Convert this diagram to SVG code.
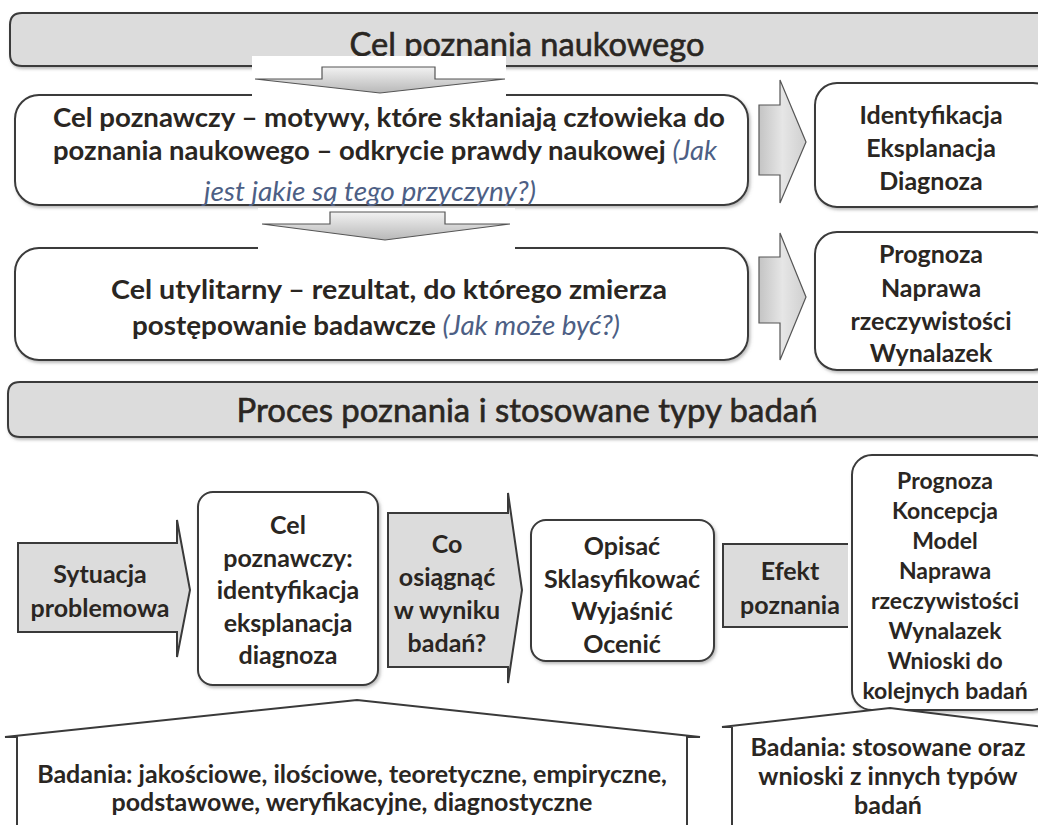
<svg xmlns="http://www.w3.org/2000/svg" width="1038" height="825" viewBox="0 0 1038 825">
<style>
.t{font-family:Lato,"Liberation Sans","DejaVu Sans",sans-serif;font-weight:700;font-size:25px;fill:#2a2622;text-anchor:middle}
.s{font-size:23px}
.b{font-size:27px}
.title{font-family:Lato,"Liberation Sans",sans-serif;font-weight:400;font-size:33px;fill:#2a2622;stroke:#2a2622;stroke-width:0.6;text-anchor:middle}
.it{font-style:italic;font-weight:400;fill:#4d5f85}
.box{fill:#fff;stroke:#3a3a3a;stroke-width:2}
.gray{fill:#dcdcdc;stroke:#3a3a3a;stroke-width:2}
.ln{fill:none;stroke:#3a3a3a;stroke-width:2}
.patch{fill:#fff;stroke:none}
</style>
<defs>
<linearGradient id="gDown" x1="0" y1="0" x2="0" y2="1">
<stop offset="0" stop-color="#f2f2f2"/><stop offset="1" stop-color="#b8b8b8"/>
</linearGradient>
<linearGradient id="gRight" x1="0" y1="0" x2="1" y2="0">
<stop offset="0" stop-color="#c4c4c4"/><stop offset="0.5" stop-color="#e6e6e6"/><stop offset="1" stop-color="#cfcfcf"/>
</linearGradient>
<filter id="sh" x="-5%" y="-5%" width="110%" height="115%">
<feDropShadow dx="1.5" dy="2" stdDeviation="1.5" flood-color="#777" flood-opacity="0.5"/>
</filter>
</defs>

<g id="banner-top">
<path class="gray" d="M1045 13 H22 Q10 13 10 25 V54 Q10 66 22 66 H1045" filter="url(#sh)"/>
<text class="title" x="527" y="56" textLength="355" lengthAdjust="spacingAndGlyphs">Cel poznania naukowego</text>
</g>

<g id="box-poznawczy">
<rect class="box" x="15" y="95" width="733" height="110" rx="24" filter="url(#sh)"/>
<text class="t b" x="389" y="127" textLength="672" lengthAdjust="spacingAndGlyphs">Cel poznawczy – motywy, które skłaniają człowieka do</text>
<text class="t b" x="385" y="160" textLength="664" lengthAdjust="spacingAndGlyphs">poznania naukowego – odkrycie prawdy naukowej <tspan class="it">(Jak</tspan></text>
<text class="t b it" x="370" y="201" textLength="332" lengthAdjust="spacingAndGlyphs">jest jakie są tego przyczyny?)</text>
</g>

<g id="box-utylitarny">
<rect class="box" x="15" y="248" width="733" height="112" rx="24" filter="url(#sh)"/>
<text class="t b" x="389" y="299" textLength="556" lengthAdjust="spacingAndGlyphs">Cel utylitarny – rezultat, do którego zmierza</text>
<text class="t b" x="376" y="335" textLength="488" lengthAdjust="spacingAndGlyphs">postępowanie badawcze <tspan class="it">(Jak może być?)</tspan></text>
</g>

<g id="box-identyfikacja">
<rect class="box" x="815" y="83" width="240" height="124" rx="22" filter="url(#sh)"/>
<text class="t" x="931" y="124">Identyfikacja</text>
<text class="t" x="931" y="157">Eksplanacja</text>
<text class="t" x="931" y="190">Diagnoza</text>
</g>

<g id="box-prognoza">
<rect class="box" x="815" y="232" width="240" height="138" rx="22" filter="url(#sh)"/>
<text class="t" x="931" y="263">Prognoza</text>
<text class="t" x="931" y="297">Naprawa</text>
<text class="t" x="931" y="330">rzeczywistości</text>
<text class="t" x="931" y="362">Wynalazek</text>
</g>

<g id="banner-proces">
<path class="gray" d="M1045 382 H20 Q8 382 8 394 V425 Q8 437 20 437 H1045" filter="url(#sh)"/>
<text class="title" x="527" y="422" font-size="36" textLength="581" lengthAdjust="spacingAndGlyphs">Proces poznania i stosowane typy badań</text>
</g>

<g id="sytuacja">
<path class="gray" d="M18 543 H177 V520 L190 590 L177 657 V632 H18 Z"/>
<text class="t" x="100" y="583">Sytuacja</text>
<text class="t" x="100" y="617">problemowa</text>
</g>

<g id="cel-poznawczy">
<rect class="box" x="198" y="492" width="180" height="193" rx="15" filter="url(#sh)"/>
<text class="t" x="288" y="534">Cel</text>
<text class="t" x="288" y="567">poznawczy:</text>
<text class="t" x="288" y="599">identyfikacja</text>
<text class="t" x="288" y="632">eksplanacja</text>
<text class="t" x="288" y="664">diagnoza</text>
</g>

<g id="co-osiagnac">
<path class="gray" d="M388 513 H508 V493 L522 590 L508 683 V667 H388 Z"/>
<text class="t" x="447" y="553">Co</text>
<text class="t" x="447" y="586">osiągnąć</text>
<text class="t" x="447" y="619">w wyniku</text>
<text class="t" x="447" y="652">badań?</text>
</g>

<g id="opisac">
<rect class="box" x="531" y="520" width="183" height="141" rx="15" filter="url(#sh)"/>
<text class="t" x="622" y="555">Opisać</text>
<text class="t" x="622" y="588">Sklasyfikować</text>
<text class="t" x="622" y="620">Wyjaśnić</text>
<text class="t" x="622" y="653">Ocenić</text>
</g>

<g id="efekt">
<path d="M848 544 H723 V627 H848 Z" fill="#dcdcdc"/>
<path class="ln" d="M848 544 H723 V627 H848"/>
<text class="t" x="790" y="580">Efekt</text>
<text class="t" x="790" y="614">poznania</text>
</g>

<g id="prognoza-koncepcja">
<rect class="box" x="852" y="455" width="200" height="255" rx="20" filter="url(#sh)"/>
<text class="t s" x="945" y="489">Prognoza</text>
<text class="t s" x="945" y="519">Koncepcja</text>
<text class="t s" x="945" y="549">Model</text>
<text class="t s" x="945" y="579">Naprawa</text>
<text class="t s" x="945" y="609">rzeczywistości</text>
<text class="t s" x="945" y="639">Wynalazek</text>
<text class="t s" x="945" y="669">Wnioski  do</text>
<text class="t s" x="945" y="699">kolejnych badań</text>
</g>

<g id="badania-podstawowe">
<path d="M17 830 V737 H5 L357 700 L700 737 H687 V830 Z" fill="#fff"/>
<path class="ln" d="M17 830 V737 H5 L357 700 L700 737 H687 V830"/>
<text class="t" x="352" y="783">Badania: jakościowe, ilościowe, teoretyczne, empiryczne,</text>
<text class="t" x="352" y="811">podstawowe, weryfikacyjne, diagnostyczne</text>
</g>

<g id="badania-stosowane">
<path d="M732 830 V727 H722 L890 708 L1045 727 V830 Z" fill="#fff"/>
<path class="ln" d="M732 830 V727 H722 L890 708 L1045 727"/>
<text class="t" x="888" y="756">Badania: stosowane oraz</text>
<text class="t" x="888" y="785">wnioski z innych typów</text>
<text class="t" x="888" y="814">badań</text>
</g>

<g id="connectors">
<rect class="patch" x="252" y="56" width="254" height="44"/>
<path d="M322 67 H435 V79 H505 L380 93 L255 79 H322 Z" fill="url(#gDown)" stroke="#555" stroke-width="1.2"/>
<rect class="patch" x="258" y="208" width="257" height="42"/>
<path d="M330 212 H445 V224 H510 L385 240 L262 224 H330 Z" fill="url(#gDown)" stroke="#555" stroke-width="1.2"/>
<path d="M759 105 H780 V80 L806 142 L780 203 V175 H759 Z" fill="url(#gRight)" stroke="#555" stroke-width="1.2"/>
<path d="M759 257 H780 V233 L806 297 L780 360 V323 H759 Z" fill="url(#gRight)" stroke="#555" stroke-width="1.2"/>
</g>
</svg>
